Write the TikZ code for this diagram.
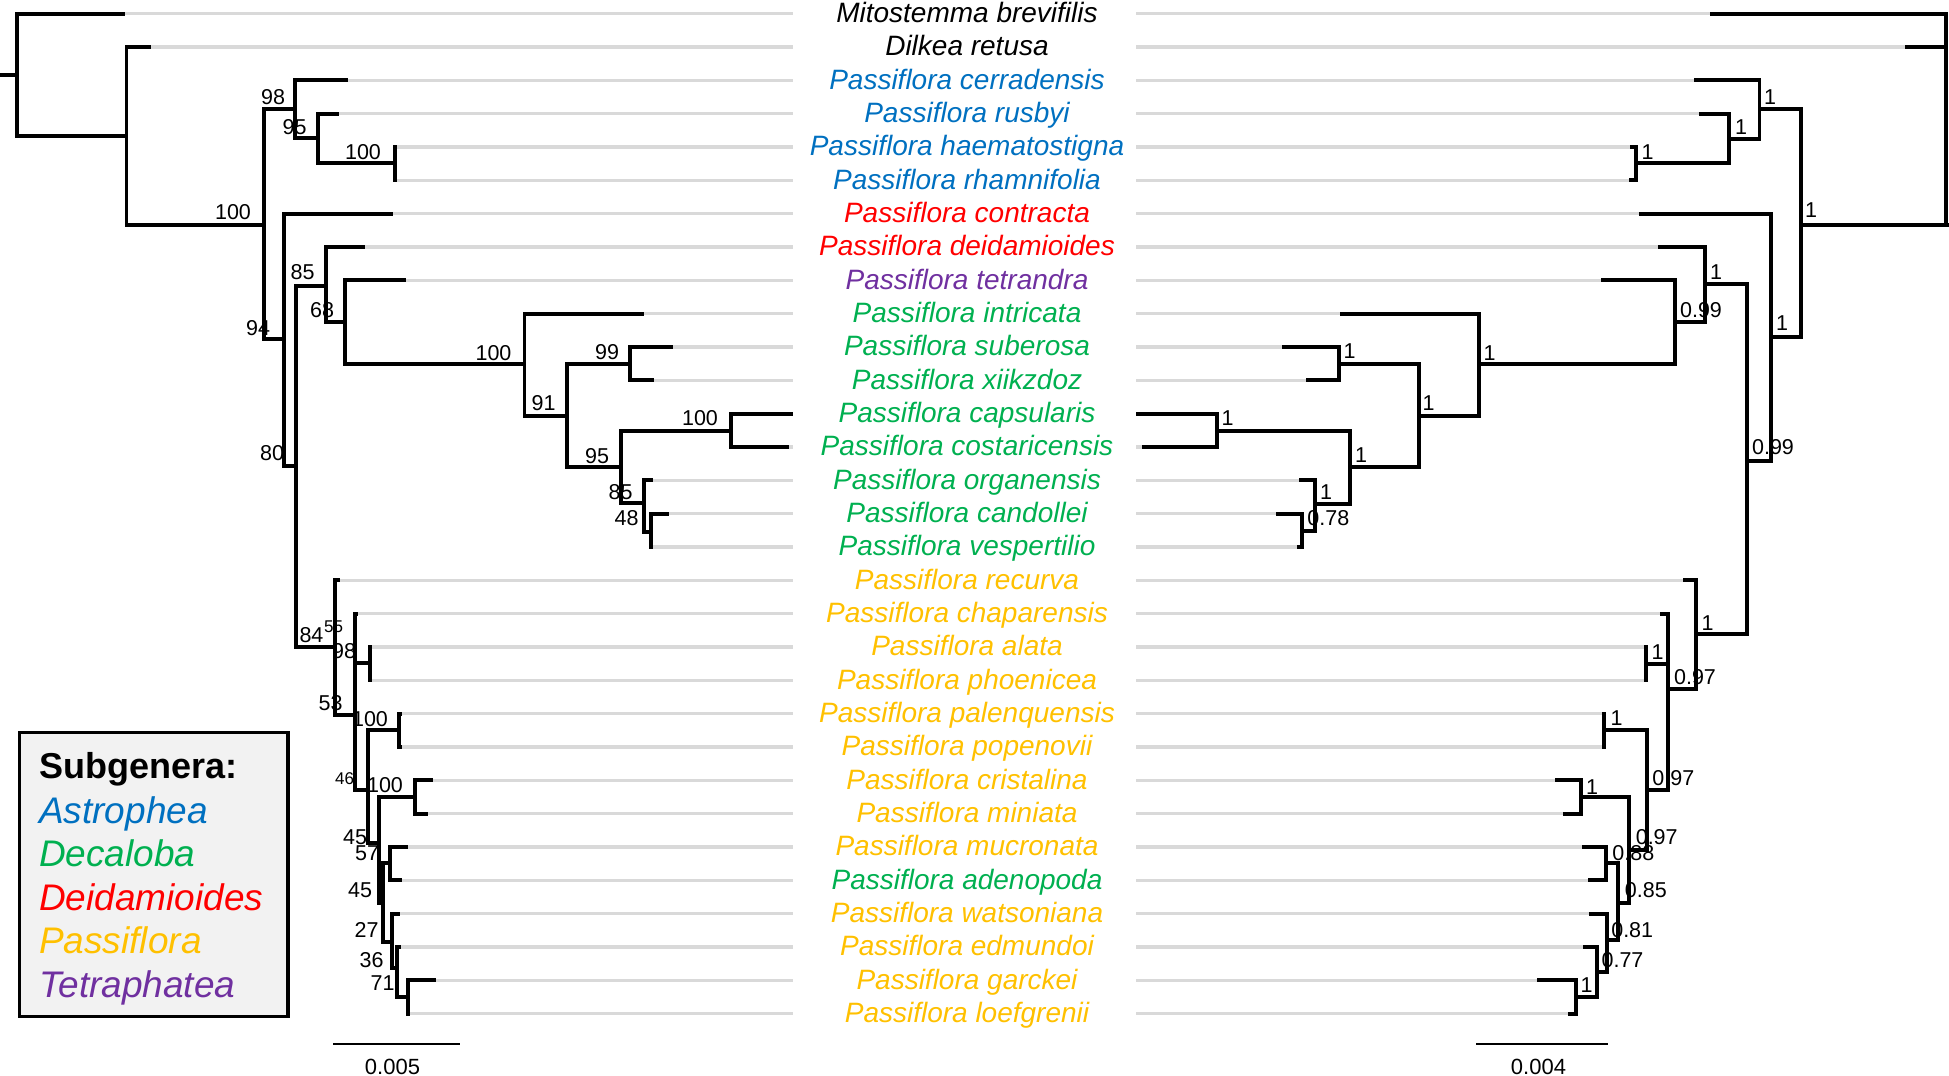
\documentclass[tikz,border=0pt]{standalone}
\usepackage{fontspec}
\setmainfont{Liberation Sans}
\usepackage{xcolor}
\definecolor{astro}{HTML}{0070C0}
\definecolor{deca}{HTML}{00B050}
\definecolor{deida}{HTML}{FF0000}
\definecolor{passi}{HTML}{FFC000}
\definecolor{tetra}{HTML}{7030A0}
\definecolor{tipgray}{HTML}{D9D9D9}
\definecolor{boxgray}{HTML}{F2F2F2}
\tikzset{%
	branch/.style={
		line width=3.8pt,
		black
	},
	tipline/.style={
		line width=3.2pt,
		tipgray
	},
	taxon/.style={
		anchor=base,
		inner sep=0pt,
		font=\fontsize{28}{30}\selectfont\itshape
	},
	support/.style={
		inner sep=0pt,
		font=\fontsize{21.5}{24}\selectfont
	},
	support small/.style={
		inner sep=0pt,
		font=\fontsize{17}{19}\selectfont
	},
	legend entry/.style={
		anchor=base west,
		inner sep=0pt,
		font=\fontsize{37}{40}\selectfont\itshape
	},
}

\begin{document}
\begin{tikzpicture}[x=1pt,y=-1pt]
			\useasboundingbox (0,0) rectangle (1949,1076);
			
			% Tips of both trees and the grey guide lines
			\foreach \r/\lx/\rx in {0/125/1710, 1/150.5/1905, 2/348/1694, 3/339/1698.6,
				4/397/1630, 5/397/1629, 6/393/1639.4, 7/365/1658, 8/406/1601, 9/644/1340,
				10/672.7/1282.3, 11/654/1306, 12/793/1136, 13/789/1141.7, 14/652.7/1299.3,
				15/668.7/1276, 16/653/1296.7, 17/340/1683.3, 18/358/1660, 19/372/1644,
				20/372/1644, 21/401.5/1602.3, 22/401.5/1602.3, 23/432.7/1555, 24/428.3/1562.7,
				25/408.3/1581.7, 26/401.7/1588.3, 27/400/1589.3, 28/400.7/1583.3,
				29/436/1537.3, 30/410/1568.3} {
				\pgfmathsetmacro\yy{13.7+33.333*\r}
				\coordinate (lt\r) at (\lx,\yy);
				\coordinate (lg\r) at (793,\yy);
				\coordinate (rg\r) at (1136,\yy);
				\coordinate (rt\r) at (\rx,\yy);
				\draw[tipline] (lt\r) -- (lg\r);
				\draw[tipline] (rg\r) -- (rt\r);
			}
			
			% Taxon names
			\foreach \r/\name/\col in {0/Mitostemma brevifilis/black, 1/Dilkea retusa/black,
				2/Passiflora cerradensis/astro, 3/Passiflora rusbyi/astro,
				4/Passiflora haematostigna/astro, 5/Passiflora rhamnifolia/astro,
				6/Passiflora contracta/deida, 7/Passiflora deidamioides/deida,
				8/Passiflora tetrandra/tetra, 9/Passiflora intricata/deca,
				10/Passiflora suberosa/deca, 11/Passiflora xiikzdoz/deca,
				12/Passiflora capsularis/deca, 13/Passiflora costaricensis/deca,
				14/Passiflora organensis/deca, 15/Passiflora candollei/deca,
				16/Passiflora vespertilio/deca, 17/Passiflora recurva/passi,
				18/Passiflora chaparensis/passi, 19/Passiflora alata/passi,
				20/Passiflora phoenicea/passi, 21/Passiflora palenquensis/passi,
				22/Passiflora popenovii/passi, 23/Passiflora cristalina/passi,
				24/Passiflora miniata/passi, 25/Passiflora mucronata/passi,
				26/Passiflora adenopoda/deca, 27/Passiflora watsoniana/passi,
				28/Passiflora edmundoi/passi, 29/Passiflora garckei/passi,
				30/Passiflora loefgrenii/passi} {
				\node[taxon, text=\col] (tx\r) at (967,{22.5+33.333*\r}) {\name};
			}
			
			% Inner nodes of the left tree
			\coordinate (lstub) at (0,75);
			\coordinate (lroot) at (17,75);
			\coordinate (lA) at (126.5,135.7);
			\coordinate (lB) at (264,225);
			\coordinate (lC) at (295,109);
			\coordinate (lD) at (318,138.3);
			\coordinate (lE) at (395,163.3);
			\coordinate (lF) at (284,339);
			\coordinate (lG) at (296,465.7);
			\coordinate (lH) at (326,285.7);
			\coordinate (lI) at (345,322.3);
			\coordinate (lJ) at (524.5,364.3);
			\coordinate (lK) at (567,416);
			\coordinate (lL) at (630,364);
			\coordinate (lM) at (621,467.3);
			\coordinate (lN) at (730.7,430.7);
			\coordinate (lO) at (644,503.3);
			\coordinate (lP) at (650.7,531.7);
			\coordinate (lQ) at (335,647.3);
			\coordinate (lR) at (355,715);
			\coordinate (lS) at (370,663.3);
			\coordinate (lT) at (368.3,790);
			\coordinate (lU) at (399.3,730);
			\coordinate (lV) at (379.3,843.3);
			\coordinate (lW) at (415,797.3);
			\coordinate (lX) at (382.7,903.3);
			\coordinate (lY) at (390,863.3);
			\coordinate (lZ) at (391.7,941.7);
			\coordinate (lAA) at (396.7,968.3);
			\coordinate (lAB) at (408.3,996.7);
			
			% Inner nodes of the right tree
			\coordinate (rstub) at (1949,225);
			\coordinate (rroot) at (1946,225);
			\coordinate (rA) at (1800.8,225);
			\coordinate (rB) at (1759.4,109);
			\coordinate (rC) at (1729,138.7);
			\coordinate (rD) at (1636,163.3);
			\coordinate (rE) at (1770.6,337.3);
			\coordinate (rF) at (1747,460.7);
			\coordinate (rG) at (1704.8,284);
			\coordinate (rH) at (1674.6,322.3);
			\coordinate (rI) at (1478.8,364.3);
			\coordinate (rJ) at (1418.8,416);
			\coordinate (rK) at (1339.3,364);
			\coordinate (rL) at (1350,467.3);
			\coordinate (rM) at (1216.7,430.7);
			\coordinate (rN) at (1315,504);
			\coordinate (rO) at (1301.7,530.7);
			\coordinate (rP) at (1696,634);
			\coordinate (rQ) at (1667.7,689.3);
			\coordinate (rR) at (1646,664);
			\coordinate (rS) at (1646.7,790);
			\coordinate (rT) at (1604.3,730);
			\coordinate (rU) at (1629.3,850);
			\coordinate (rV) at (1580.7,796.7);
			\coordinate (rW) at (1618.3,903.3);
			\coordinate (rX) at (1606,863.3);
			\coordinate (rY) at (1607.3,940);
			\coordinate (rZ) at (1597.3,971.7);
			\coordinate (rAA) at (1576,996.7);
			
			% Bootstrap values
			\node[support] (bslB) at (233,212) {100};
			\node[support] (bslC) at (273,97) {98};
			\node[support] (bslD) at (294.5,127) {95};
			\node[support] (bslE) at (363,152) {100};
			\node[support] (bslF) at (258,328) {94};
			\node[support] (bslG) at (272,453) {80};
			\node[support] (bslH) at (302.5,272) {85};
			\node[support] (bslI) at (322,310) {68};
			\node[support] (bslJ) at (493.5,352.7) {100};
			\node[support] (bslK) at (543.5,403) {91};
			\node[support] (bslL) at (607,351.7) {99};
			\node[support] (bslM) at (597,456) {95};
			\node[support] (bslN) at (700,417.7) {100};
			\node[support] (bslO) at (620.5,491.7) {85};
			\node[support] (bslP) at (626.5,518.3) {48};
			\node[support] (bslQ) at (311.5,635) {84};
			\node[support small] (bslx) at (333.5,626.7) {55};
			\node[support] (bslS) at (344,650.7) {98};
			\node[support] (bslR) at (330.5,702.7) {53};
			\node[support] (bslU) at (370,719.3) {100};
			\node[support small] (bslT) at (344.5,778.3) {46};
			\node[support] (bslW) at (385,785) {100};
			\node[support] (bslV) at (355,836.7) {45};
			\node[support] (bslY) at (367,852.7) {57};
			\node[support] (bslX) at (360,890) {45};
			\node[support] (bslZ) at (366.5,930) {27};
			\node[support] (bslAA) at (371.5,960) {36};
			\node[support] (bslAB) at (382.5,983.3) {71};
			
			% Posterior probabilities
			\node[support] (pprA) at (1811,210) {1};
			\node[support] (pprB) at (1770,97) {1};
			\node[support] (pprC) at (1741,127) {1};
			\node[support] (pprD) at (1647.5,152) {1};
			\node[support] (pprE) at (1782,323) {1};
			\node[support] (pprF) at (1773,446.7) {0.99};
			\node[support] (pprG) at (1716,272) {1};
			\node[support] (pprH) at (1701,310) {0.99};
			\node[support] (pprI) at (1489.5,352.7) {1};
			\node[support] (pprJ) at (1428.5,403) {1};
			\node[support] (pprK) at (1349.5,351) {1};
			\node[support] (pprL) at (1361,455) {1};
			\node[support] (pprM) at (1227.5,417.7) {1};
			\node[support] (pprN) at (1326,491.7) {1};
			\node[support] (pprO) at (1328.3,518.3) {0.78};
			\node[support] (pprP) at (1707.5,622.7) {1};
			\node[support] (pprQ) at (1695,676.7) {0.97};
			\node[support] (pprR) at (1657.5,651.7) {1};
			\node[support] (pprS) at (1673.3,778.3) {0.97};
			\node[support] (pprT) at (1616.5,718.3) {1};
			\node[support] (pprU) at (1656.7,837.3) {0.97};
			\node[support] (pprV) at (1592,786.7) {1};
			\node[support] (pprW) at (1645.8,890) {0.85};
			\node[support] (pprX) at (1633.3,852.7) {0.88};
			\node[support] (pprY) at (1632.2,930) {0.81};
			\node[support] (pprZ) at (1622.5,960) {0.77};
			\node[support] (pprAA) at (1586.7,985) {1};
			
			% Draw the branches of the left tree
			\draw[branch] (lstub) -- (lroot);
			\foreach \p/\c in {lroot/lt0, lroot/lA, lA/lt1, lA/lB, lB/lC, lB/lF, lC/lt2,
				lC/lD, lD/lt3, lD/lE, lE/lt4, lE/lt5, lF/lt6, lF/lG, lG/lH, lG/lQ, lH/lt7,
				lH/lI, lI/lt8, lI/lJ, lJ/lt9, lJ/lK, lK/lL, lK/lM, lL/lt10, lL/lt11, lM/lN,
				lM/lO, lN/lt12, lN/lt13, lO/lt14, lO/lP, lP/lt15, lP/lt16, lQ/lt17, lQ/lR,
				lR/lt18, lR/lS, lR/lT, lS/lt19, lS/lt20, lT/lU, lT/lV, lU/lt21, lU/lt22,
				lV/lW, lV/lX, lW/lt23, lW/lt24, lX/lY, lX/lZ, lY/lt25, lY/lt26, lZ/lt27,
				lZ/lAA, lAA/lt28, lAA/lAB, lAB/lt29, lAB/lt30}
				\draw[branch] (\p) |- (\c);
			
			% Draw the branches of the right tree
			\draw[branch] (rstub) -- (rroot) -- (rA);
			\foreach \p/\c in {rroot/rt0, rroot/rt1, rA/rB, rA/rE, rB/rt2, rB/rC, rC/rt3,
				rC/rD, rD/rt4, rD/rt5, rE/rt6, rE/rF, rF/rG, rF/rP, rG/rt7, rG/rH, rH/rt8,
				rH/rI, rI/rt9, rI/rJ, rJ/rK, rJ/rL, rK/rt10, rK/rt11, rL/rM, rL/rN, rM/rt12,
				rM/rt13, rN/rt14, rN/rO, rO/rt15, rO/rt16, rP/rt17, rP/rQ, rQ/rt18, rQ/rR,
				rQ/rS, rR/rt19, rR/rt20, rS/rT, rS/rU, rT/rt21, rT/rt22, rU/rV, rU/rW,
				rV/rt23, rV/rt24, rW/rX, rW/rY, rX/rt25, rX/rt26, rY/rt27, rY/rZ, rZ/rt28,
				rZ/rAA, rAA/rt29, rAA/rt30}
				\draw[branch] (\p) |- (\c);
			
			% Draw the legend box
			\draw[line width=3.5pt, fill=boxgray] (19.5,732.7) rectangle (288,1016.7);
			\node[anchor=base west, inner sep=0pt, font=\fontsize{36}{40}\selectfont\bfseries] (legtitle) at (39,778.3) {Subgenera:};
			\node[legend entry, text=astro] (legastro) at (39,823) {Astrophea};
			\node[legend entry, text=deca] (legdeca) at (39,866.5) {Decaloba};
			\node[legend entry, text=deida] (legdeida) at (39,910) {Deidamioides};
			\node[legend entry, text=passi] (legpassi) at (39,953.5) {Passiflora};
			\node[legend entry, text=tetra] (legtetra) at (39,997) {Tetraphatea};
			
			% Draw the scale bars
			\draw[line width=2pt] (333,1044) -- (460,1044);
			\node[inner sep=0pt, font=\fontsize{22}{24}\selectfont] (scleft) at (392.5,1066.7) {0.005};
			\draw[line width=2pt] (1476,1044) -- (1608,1044);
			\node[inner sep=0pt, font=\fontsize{22}{24}\selectfont] (scright) at (1538.5,1066.7) {0.004};

		\end{tikzpicture}
\end{document}
